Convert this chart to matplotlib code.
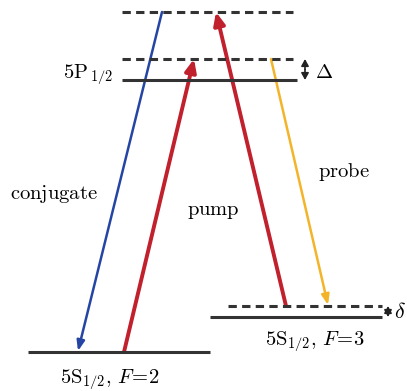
import matplotlib.pyplot as plt
from matplotlib.patches import FancyArrowPatch

plt.rcParams['mathtext.fontset'] = 'cm'
plt.rcParams['lines.scale_dashes'] = False

# energy levels (x start, x end, y) in diagram units
level_names = ['top_virtual', 'p_virtual', '5P', 'F2', 'F3', 'F3_virtual']
level_x0 = [122, 122, 122, 28, 210, 228]
level_x1 = [293, 293, 297, 210, 382, 382]
level_y = [12, 59, 80, 352, 317, 306]
level_dashed = [True, True, False, False, False, True]

# transitions: (x_from, y_from) -> (x_to, y_to)
trans_names = ['conjugate', 'pump1', 'pump2', 'probe']
trans_x0 = [162, 124, 286, 271]
trans_y0 = [12, 352, 306, 59]
trans_x1 = [78, 194, 216, 328]
trans_y1 = [351, 59, 12, 305]
trans_color = ['#2545a5', '#c1202d', '#c1202d', '#f4b42a']
trans_lw = [1.8, 2.8, 2.8, 1.8]

fig = plt.figure(figsize=(4.07, 3.91), dpi=100)
ax = fig.add_axes([0, 0, 1, 1])
ax.set_xlim(0, 407)
ax.set_ylim(391, 0)
ax.axis('off')

for x0, x1, y, d in zip(level_x0, level_x1, level_y, level_dashed):
    if d:
        ax.plot([x0, x1], [y, y], color='#333333', lw=2.2, linestyle=(0, (6, 3.8)))
    else:
        ax.plot([x0, x1], [y, y], color='#333333', lw=2.2, solid_capstyle='butt')

for x0, y0, x1, y1, c, lw in zip(trans_x0, trans_y0, trans_x1, trans_y1, trans_color, trans_lw):
    if lw > 2:
        style = '-|>,head_length=7.5,head_width=3.3'
    else:
        style = '-|>,head_length=6,head_width=2.3'
    ax.add_patch(FancyArrowPatch((x0, y0), (x1, y1), arrowstyle=style, color=c,
                                 lw=lw, shrinkA=0, shrinkB=0, mutation_scale=1))

# detuning markers
for x, ya, yb in [(305, 59, 80), (388, 306, 317)]:
    ax.add_patch(FancyArrowPatch((x, (ya + yb) / 2), (x, ya), arrowstyle='-|>,head_length=4,head_width=2.2',
                                 color='#222222', lw=1.2, shrinkA=0, shrinkB=0, mutation_scale=1))
    ax.add_patch(FancyArrowPatch((x, (ya + yb) / 2), (x, yb), arrowstyle='-|>,head_length=4,head_width=2.2',
                                 color='#222222', lw=1.2, shrinkA=0, shrinkB=0, mutation_scale=1))

fs = 14.8
ax.text(315, 72, r'$\Delta$', fontsize=fs, va='center', ha='left')
ax.text(394, 312, r'$\delta$', fontsize=fs + 1, va='center', ha='left')
ax.text(113, 74, r'$\mathrm{5P}_{\,1/2}$', fontsize=fs, va='center', ha='right')
ax.text(10, 194, r'$\mathrm{conjugate}$', fontsize=fs, va='center', ha='left')
ax.text(187, 211, r'$\mathrm{pump}$', fontsize=fs, va='center', ha='left')
ax.text(318, 172, r'$\mathrm{probe}$', fontsize=fs, va='center', ha='left')
ax.text(60, 379, r'$\mathrm{5S}_{1/2},\,F\!=\!2$', fontsize=fs, va='center', ha='left')
ax.text(265, 341, r'$\mathrm{5S}_{1/2},\,F\!=\!3$', fontsize=fs, va='center', ha='left')

fig.savefig('out.png', dpi=100)
